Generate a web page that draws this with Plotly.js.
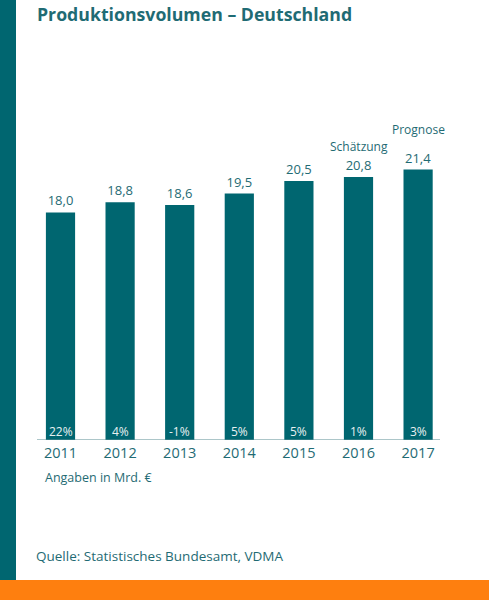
<!DOCTYPE html>
<html><head><meta charset="utf-8">
<script src="https://cdn.plot.ly/plotly-3.0.1.min.js"></script>
<style>html,body{margin:0;padding:0;background:#fff}#chart{width:489px;height:600px}</style>
</head><body><div id="chart"></div>
<script>
const years = ['2011','2012','2013','2014','2015','2016','2017'];
const volumes = [18.0, 18.8, 18.6, 19.5, 20.5, 20.8, 21.4];
const growth = ['22%','4%','-1%','5%','5%','1%','3%'];
const notes = ['', '', '', '', '', 'Schätzung', 'Prognose'];

const TEAL = '#006670';
const TXT = '#1f6b74';
const FONT = 'Open Sans, Noto Sans, sans-serif';
const noteShift = {5: 20, 6: 30};

const trace = {
  type: 'bar', x: years, y: volumes,
  marker: {color: TEAL},
  width: 0.49,
  texttemplate: '%{y:.1f}', textposition: 'outside',
  textfont: {family: FONT, size: 13, color: TXT},
  cliponaxis: false, hoverinfo: 'skip'
};

const annotations = [];
years.forEach((yr, i) => {
  annotations.push({x: i, y: 0, xref: 'x', yref: 'y', text: growth[i], showarrow: false,
    yanchor: 'bottom', yshift: -2, font: {family: FONT, size: 12, color: '#e8f0f1'}});
  if (notes[i]) annotations.push({x: i, y: volumes[i], xref: 'x', yref: 'y', text: notes[i],
    showarrow: false, yanchor: 'bottom', yshift: noteShift[i], font: {family: FONT, size: 12, color: TXT}});
});
annotations.push({xref: 'paper', yref: 'paper', x: 43/489, y: 1 - 477/600, xanchor: 'left', yanchor: 'middle',
  text: 'Angaben in Mrd. €', showarrow: false, font: {family: FONT, size: 12.5, color: TXT}});
annotations.push({xref: 'paper', yref: 'paper', x: 34/489, y: 1 - 556/600, xanchor: 'left', yanchor: 'middle',
  text: 'Quelle: Statistisches Bundesamt, VDMA', showarrow: false, font: {family: FONT, size: 13.5, color: TXT}});
annotations.push({xref: 'paper', yref: 'paper', x: 35/489, y: 1, xanchor: 'left', yanchor: 'top',
  text: '<b>Produktionsvolumen – Deutschland</b>', showarrow: false, font: {family: FONT, size: 17.7, color: TXT}});

const layout = {
  width: 489, height: 600,
  margin: {l: 0, r: 0, t: 0, b: 0},
  paper_bgcolor: '#fff', plot_bgcolor: 'rgba(0,0,0,0)',
  separators: ',.',
  showlegend: false,
  xaxis: {domain: [30.7/489, 447.9/489], type: 'category', range: [-0.5, 6.5], autorange: false,
    showgrid: false, zeroline: false, showline: false, ticks: '', ticklabelstandoff: 2,
    tickfont: {family: FONT, size: 14.5, color: TXT}, fixedrange: true},
  yaxis: {domain: [160/600, 476/600], range: [0, 25], autorange: false, visible: false, fixedrange: true},
  shapes: [
    {type: 'rect', xref: 'paper', yref: 'paper', x0: 0, x1: 16/489, y0: 20/600, y1: 1, fillcolor: TEAL, line: {width: 0}, layer: 'below'},
    {type: 'rect', xref: 'paper', yref: 'paper', x0: 0, x1: 1, y0: 0, y1: 20/600, fillcolor: '#fe7f0f', line: {width: 0}},
    {type: 'line', xref: 'paper', yref: 'y', x0: 37/489, x1: 440/489, y0: 0, y1: 0, line: {color: '#5b8e94', width: 1.2}}
  ],
  annotations: annotations
};

Plotly.newPlot('chart', [trace], layout, {displayModeBar: false, staticPlot: true});
</script></body></html>
